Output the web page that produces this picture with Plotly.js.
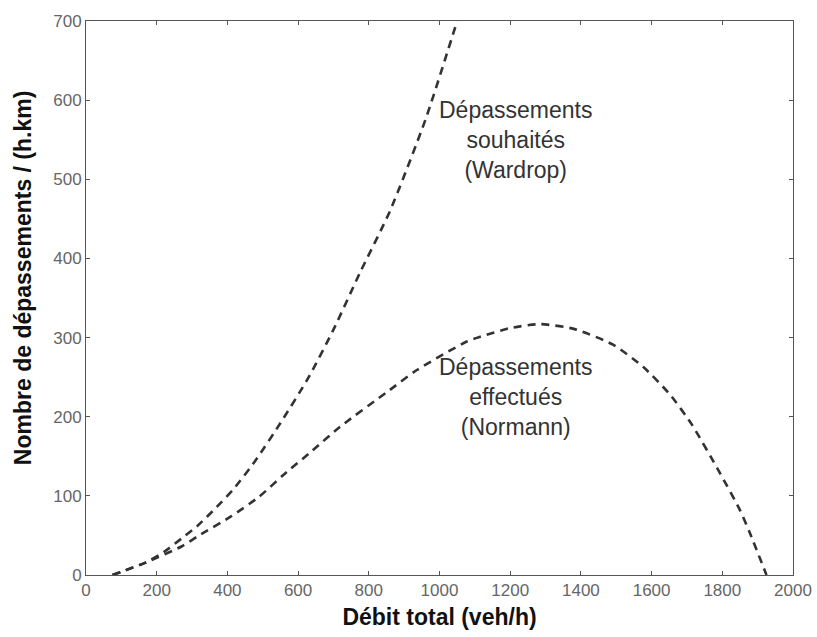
<!DOCTYPE html>
<html>
<head>
<meta charset="utf-8">
<script src="https://cdn.plot.ly/plotly-3.0.1.min.js"></script>
<style>html,body{margin:0;padding:0;background:#fff;}</style>
</head>
<body>
<div id="chart" style="width:817px;height:637px;"></div>
<script>
const wardropX = [75, 170, 220, 270, 315, 370, 420, 480, 550, 630, 700, 775, 860, 960, 1050];
const wardropY = [0, 16, 29, 46, 62, 86, 110, 145, 192, 250, 310, 382, 460, 575, 700];

const normannX = [75, 170, 270, 320, 410, 490, 560, 640, 718, 851, 936, 1077, 1115, 1200, 1284, 1380, 1491, 1576, 1652, 1714, 1793, 1850, 1878, 1925];
const normannY = [0, 16, 36, 50, 74, 99, 127, 157, 187, 231, 259, 295, 301, 312, 317, 311, 291, 263, 228, 190, 129, 82, 53, 0];

const xTicks = [0, 200, 400, 600, 800, 1000, 1200, 1400, 1600, 1800, 2000];
const yTicks = [0, 100, 200, 300, 400, 500, 600, 700];

const labelWardrop = "Dépassements<br>souhaités<br>(Wardrop)";
const labelNormann = "Dépassements<br>effectués<br>(Normann)";
const xTitle = "Débit total (veh/h)";
const yTitle = "Nombre de dépassements / (h.km)";

const lineStyle = {color: '#333333', width: 2.6, dash: '8px,6px', shape: 'spline', smoothing: 0.6};

const traces = [
  {x: wardropX, y: wardropY, type: 'scatter', mode: 'lines', line: lineStyle, showlegend: false, hoverinfo: 'skip'},
  {x: normannX, y: normannY, type: 'scatter', mode: 'lines', line: lineStyle, showlegend: false, hoverinfo: 'skip'}
];

const FONT = 'Liberation Sans, Arial, sans-serif';

const axisCommon = {
  showgrid: false, zeroline: false, showline: true, mirror: 'ticks',
  linecolor: '#555', linewidth: 1, ticks: 'inside', ticklen: 4, tickcolor: '#555',
  tickfont: {family: FONT, size: 17, color: '#666'}
};

const layout = {
  width: 817, height: 637,
  margin: {l: 86, r: 24, t: 21, b: 62},
  paper_bgcolor: '#fff', plot_bgcolor: '#fff',
  xaxis: Object.assign({}, axisCommon, {
    range: [0, 2000], tickvals: xTicks, ticktext: xTicks.map(String),
    title: {text: xTitle, standoff: 9, font: {family: FONT, size: 23, color: '#111', weight: 'bold'}}
  }),
  yaxis: Object.assign({}, axisCommon, {
    range: [0, 700], tickvals: yTicks, ticktext: yTicks.map(String)
  }),
  annotations: [
    {x: 1216, y: 550, xref: 'x', yref: 'y', text: labelWardrop, showarrow: false, align: 'center',
     font: {family: FONT, size: 23, color: '#333'}},
    {x: 1216, y: 225, xref: 'x', yref: 'y', text: labelNormann, showarrow: false, align: 'center',
     font: {family: FONT, size: 23, color: '#333'}},
    {x: -0.089, y: 0.536, xref: 'paper', yref: 'paper', text: yTitle, textangle: -90, showarrow: false,
     xanchor: 'center', yanchor: 'middle',
     font: {family: FONT, size: 23, color: '#111', weight: 'bold'}}
  ]
};

Plotly.newPlot('chart', traces, layout, {displayModeBar: false, staticPlot: true});
</script>
</body>
</html>
